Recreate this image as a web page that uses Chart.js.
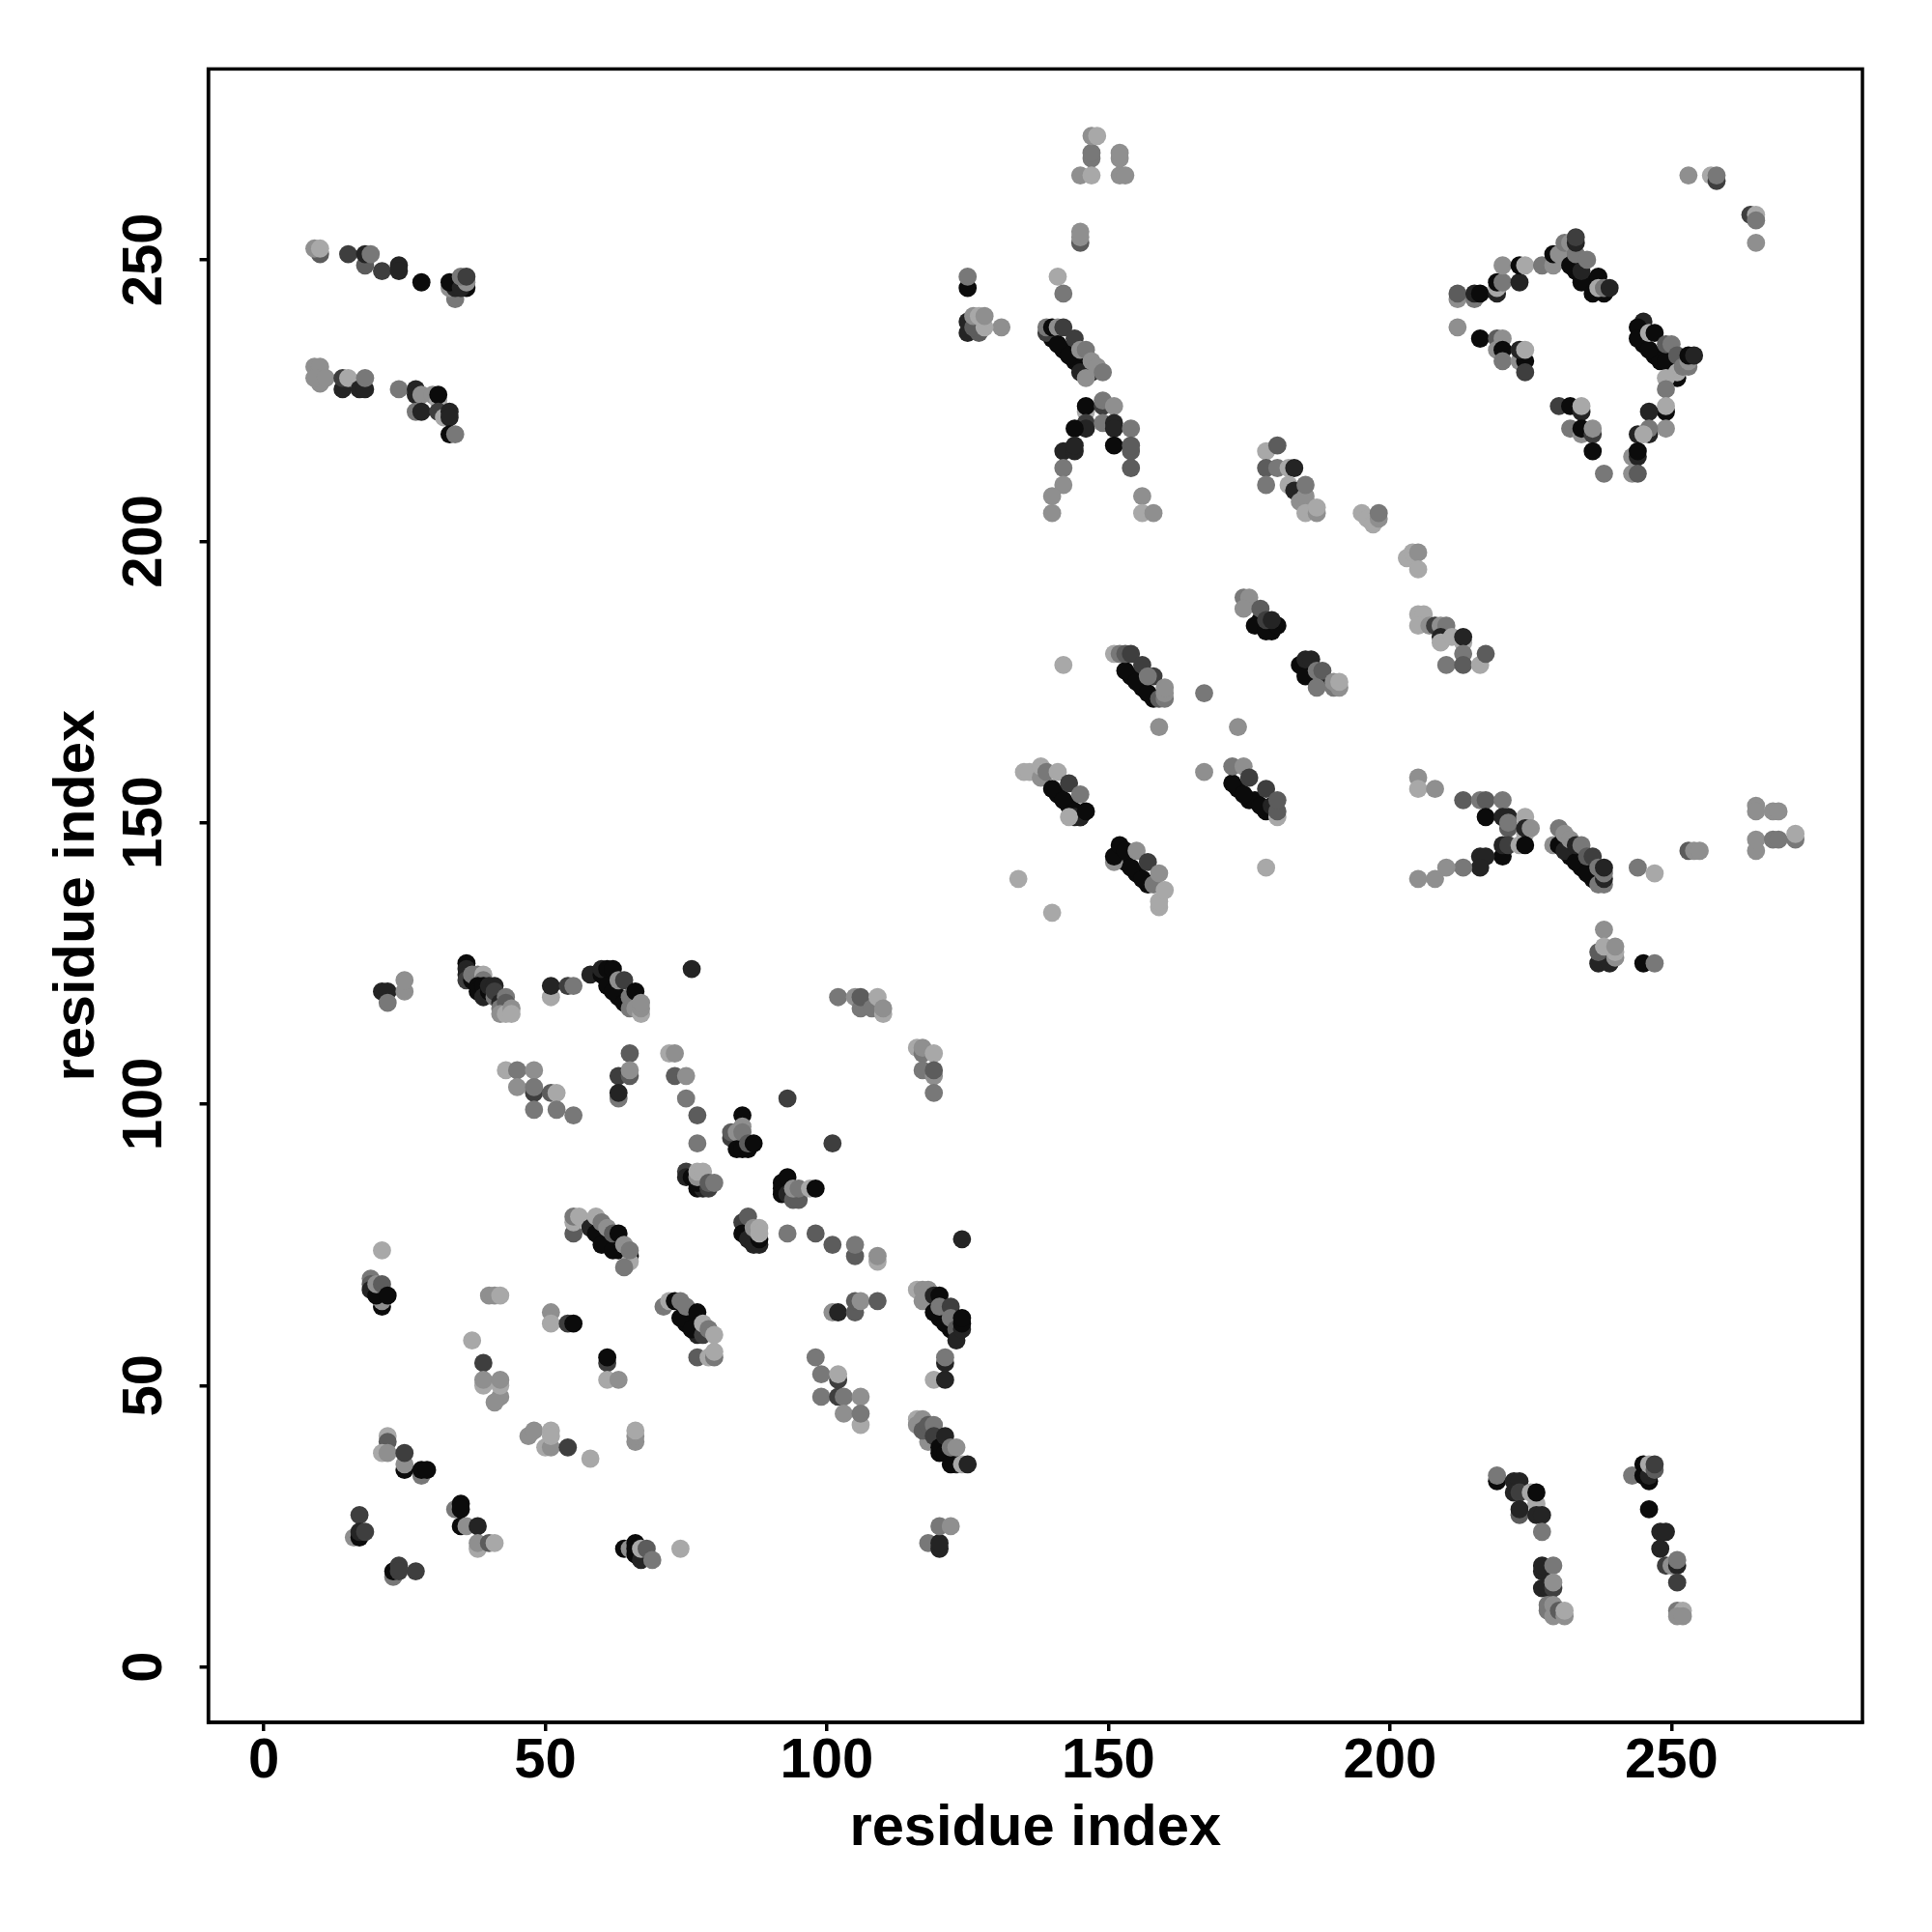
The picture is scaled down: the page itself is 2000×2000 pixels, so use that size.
<!DOCTYPE html>
<html>
<head>
<meta charset="utf-8">
<style>
body { margin: 0; background: #fff; }
</style>
<script src="https://cdn.jsdelivr.net/npm/chart.js@4"></script>
</head>
<body>
<canvas id="canvas" width="2000" height="2000"></canvas>
<script>
// contacts, one row per cluster, drawn in this order so overlaps stay the same
var residueX = [
    141,143,145,173,175,176,178,154,156,158,
    140,142,144,146,232,234,236,61,63,245,
    247,248,250,231,233,235,120,122,119,120,
    123,75,77,177,179,186,187,153,155,157,
    10,9,10,15,18,18,19,21,24,24,28,
    34,33,34,33,36,35,36,35,36,
    9,10,10,9,11,14,14,15,17,18,18,
    24,27,27,28,30,31,31,27,28,31,32,33,33,33,34,
    21,21,21,19,19,19,20,20,21,22,
    22,22,21,22,25,25,25,28,28,29,
    17,16,17,17,18,
    23,23,24,24,27,
    34,35,35,35,36,38,38,38,40,41,
    37,39,39,39,42,41,42,42,
    47,48,50,51,51,51,54,58,
    66,66,66,
    64,65,66,66,66,67,67,68,69,74,
    61,61,61,63,
    51,51,54,55,
    40,41,42,
    21,22,22,25,25,
    36,36,36,36,37,37,38,39,39,38,38,39,39,40,40,41,41,41,42,42,43,43,42,43,44,44,
    51,51,54,55,
    58,60,60,61,62,61,63,62,63,64,64,65,65,66,66,67,67,67,
    76,
    43,45,48,45,48,48,51,52,48,52,55,
    65,63,65,65,63,63,
    72,73,73,75,75,77,77,
    75,75,76,77,78,77,78,79,77,77,78,79,80,
    85,85,83,83,84,85,84,85,86,86,87,
    93,101,
    92,92,92,93,93,94,95,94,95,97,98,
    85,85,86,87,88,88,86,87,88,88,
    93,98,101,105,105,109,109,124,
    55,55,55,56,58,59,59,60,60,61,62,62,63,65,65,64,64,65,
    71,72,73,74,74,75,76,77,78,78,79,80,
    77,79,80,80,
    101,102,105,105,106,109,
    98,99,102,102,99,102,103,106,103,106,106,
    116,117,118,117,119,119,120,121,120,122,122,123,123,124,124,124,
    119,121,121,121,
    102,105,106,106,108,109,110,110,
    116,117,117,119,117,119,119,119,
    116,117,116,118,117,118,119,119,120,121,121,122,122,123,124,125,
    118,120,120,120,122,
    147,147,147,148,145,147,152,152,152,153,
    145,145,145,141,142,131,
    125,125,125,125,127,126,126,127,128,128,
    139,139,140,141,142,141,144,143,145,147,146,145,146,147,148,149,
    146,146,149,149,151,146,146,144,149,151,151,154,
    151,154,154,142,144,144,154,142,142,140,140,156,156,158,
    178,180,178,180,182,183,178,182,183,185,184,185,185,185,187,187,
    195,196,197,198,198,203,204,205,205,
    205,206,205,207,208,209,210,209,209,211,213,213,213,210,213,216,217,
    142,
    153,155,157,151,152,153,154,156,158,157,159,160,160,160,
    167,159,173,167,
    174,175,174,176,178,180,177,178,179,
    184,185,185,186,187,188,187,190,190,191,191,
    135,136,138,138,139,141,140,142,144,144,145,143,143,145,146,
    172,174,177,172,174,175,178,179,180,180,180,
    178,
    151,151,152,153,154,156,155,157,158,159,159,159,160,
    134,140,
    205,205,208,213,216,217,220,
    217,220,221,221,221,224,224,224,225,
    220,220,221,223,224,216,217,216,213,210,205,208,
    229,230,231,233,235,237,238,238,230,231,232,233,234,235,236,237,238,238,
    238,237,239,237,238,240,240,240,245,247,
    244,247,253,254,255,
    265,265,268,269,265,265,268,269,272,272,
    253,257,258,258,264,265,265,265,
    212,212,215,215,216,219,219,219,220,223,220,223,224,227,229,
    229,230,232,234,236,238,237,231,232,233,233,233,234,235,237,238,239,
    212,216,219,220,219,220,220,223,224,223,224,224,
    230,232,234,234,232,234,234,236,236,236,238,
    245,244,244,246,246,247,249,249,250,251,251,251,252,253,253,253,254,
    249,249,249,249,246,249,246,246,244,245,243,244,244,243,244,
    219,219,222,223,222,223,225,226,226,223,223,226,227,227,
    227,227,229,227,228,229,229,228,228,229,229,230,231,231,
    243,245,245,246,246,246,247,247,246,248,249,248,249,250,251,251,251,251,252,251,252
];
var residueY = [
    155,153,151,156,154,154,152,176,174,172,
    236,234,232,230,144,142,140,76,74,235,
    233,232,230,250,248,246,62,60,40,38,
    36,61,59,186,184,177,175,143,141,139,
    251,252,252,251,249,251,251,248,249,248,246,
    243,245,245,246,245,245,246,247,247,
    231,231,228,229,229,227,229,229,227,227,229,
    227,227,226,226,226,225,226,223,223,223,222,223,222,219,219,
    74,64,65,69,68,67,66,68,68,66,
    41,40,38,38,35,36,38,34,35,35,
    27,23,23,24,24,
    16,17,18,17,17,
    28,29,28,25,25,25,21,22,22,22,
    58,54,50,51,48,47,50,51,
    41,42,39,39,42,41,39,37,
    40,41,42,
    21,21,22,21,20,19,21,21,19,21,
    54,55,51,51,
    63,61,61,61,
    66,66,66,
    120,120,118,120,122,
    125,124,123,122,122,123,123,123,122,121,120,121,119,120,121,119,121,120,118,117,119,118,116,116,117,116,
    119,121,121,121,
    123,123,124,124,124,121,119,120,122,122,118,117,119,120,117,116,117,118,
    124,
    106,106,106,103,102,103,102,102,99,99,98,
    109,105,105,106,101,102,
    109,109,105,105,101,98,93,
    88,87,87,85,85,86,86,85,87,88,88,86,86,
    98,96,94,95,95,95,92,92,92,93,93,
    101,93,
    86,85,84,87,84,83,83,85,85,85,85,
    79,77,76,75,75,76,80,78,78,77,
    77,77,75,73,75,72,73,76,
    77,79,80,80,78,77,80,75,79,78,74,77,77,73,72,71,75,74,
    64,65,65,62,65,64,60,63,59,61,60,59,
    55,55,55,56,
    63,63,63,65,65,65,
    55,52,51,52,48,48,48,48,45,43,45,
    67,67,67,65,63,66,66,61,64,64,62,60,58,60,61,62,
    51,51,54,55,
    119,119,117,119,117,119,116,117,
    110,109,110,109,106,105,106,102,
    44,44,43,40,42,43,43,41,39,38,41,36,39,39,36,36,
    22,21,22,25,25,
    268,269,272,272,265,265,268,269,265,265,
    253,254,255,247,244,238,
    245,247,237,239,237,238,240,240,238,240,
    237,238,238,238,238,235,236,233,230,230,229,234,234,232,231,230,
    223,224,224,225,224,221,220,220,221,221,220,220,
    217,216,217,216,216,217,213,213,210,208,205,208,205,205,
    216,217,213,213,213,213,210,210,209,207,207,208,210,205,205,206,
    205,204,203,204,205,197,198,198,195,
    187,187,185,185,185,185,185,183,182,183,182,183,180,178,178,178,180,
    178,
    177,175,173,180,180,180,180,178,176,176,172,172,173,174,
    173,167,167,159,
    190,190,188,185,184,185,188,186,186,
    178,176,179,179,177,177,174,174,175,174,175,
    159,159,158,160,159,159,156,154,152,151,151,151,157,155,152,
    157,155,153,160,160,158,156,153,151,152,154,
    142,
    143,144,146,145,142,140,145,143,139,141,135,136,138,
    140,134,
    158,156,156,154,154,154,154,
    151,151,151,149,150,151,148,149,149,
    144,146,146,146,146,144,144,142,142,142,140,140,
    146,146,145,143,141,139,139,140,149,148,147,146,146,144,144,142,141,142,
    131,125,125,127,128,126,127,128,125,125,
    142,141,145,145,145,
    153,152,152,152,145,147,147,147,147,148,
    265,265,264,265,258,258,257,253,
    243,244,243,244,244,244,245,246,246,246,249,249,249,249,249,
    251,251,249,246,244,244,247,253,253,251,253,254,248,250,245,245,245,
    238,236,236,236,234,234,232,232,232,234,234,230,
    224,224,223,224,220,219,220,219,220,216,212,
    239,238,236,234,237,237,232,235,235,229,230,233,231,231,232,233,233,
    229,227,223,224,223,220,219,220,219,219,215,215,216,212,212,
    33,34,33,33,31,31,31,29,31,27,28,27,27,24,
    17,18,18,14,14,14,15,10,11,11,9,10,9,10,
    34,36,34,33,34,36,35,36,28,24,24,21,18,18,18,19,15,10,10,9,9
];
// index into grayLevels for each contact, same rows as above
var shadeIndex = [
    0,0,0,0,0,0,0,0,0,0,
    0,0,0,0,0,0,0,0,0,0,
    0,0,0,0,0,0,0,0,0,0,
    1,0,1,0,0,0,1,0,0,0,
    3,5,6,2,3,1,4,2,1,1,0,
    4,5,1,0,0,1,5,4,2,
    5,5,5,5,5,1,2,6,1,1,4,
    4,1,1,5,5,6,0,4,1,2,6,1,1,0,4,
    6,0,5,4,3,1,0,5,3,0,
    6,3,6,5,0,5,2,4,0,0,
    2,5,0,1,2,
    4,0,2,2,2,
    4,0,0,0,5,1,6,5,3,6,
    6,2,6,5,5,5,6,5,
    5,5,6,5,6,6,2,6,
    5,5,6,
    0,5,0,0,0,1,6,3,4,6,
    2,0,6,5,
    5,6,2,0,
    5,5,6,
    1,1,4,5,5,
    0,1,1,2,0,4,4,6,4,0,0,0,1,0,1,4,1,2,1,4,4,3,5,6,5,6,
    6,1,2,4,
    1,0,1,0,0,0,0,0,5,2,0,4,4,0,5,6,5,5,
    1,
    6,4,5,5,2,4,3,6,4,4,4,
    3,2,3,5,4,1,
    6,5,3,5,4,3,4,
    2,1,0,0,1,0,0,2,5,6,6,3,4,
    0,5,2,3,5,4,0,0,0,3,0,
    2,2,
    0,0,0,0,1,3,3,5,4,6,0,
    2,0,1,1,1,0,3,5,6,6,
    4,3,3,3,4,6,5,1,
    3,6,4,6,1,0,6,0,4,5,0,3,0,0,6,4,5,4,
    4,6,0,0,4,4,0,0,2,6,4,6,
    3,6,4,6,
    5,1,3,3,5,3,
    4,4,2,6,4,2,4,5,5,6,4,
    6,5,5,5,0,1,0,0,4,2,4,3,1,1,0,0,
    6,1,1,4,
    4,5,4,3,4,6,6,5,
    6,4,5,6,4,5,3,4,
    6,5,5,5,3,3,4,2,0,0,1,0,4,5,6,1,
    4,1,1,4,5,
    4,4,5,6,5,6,5,5,5,5,
    3,5,5,6,4,5,
    0,4,1,1,3,3,5,6,6,5,
    2,4,0,5,2,0,2,0,1,1,5,5,4,5,5,4,
    6,0,2,4,5,2,1,0,4,1,1,4,
    0,3,3,1,1,1,3,4,5,5,5,5,6,5,
    6,3,3,4,6,1,4,6,1,3,5,5,4,6,5,6,
    6,6,6,5,4,6,6,5,6,
    6,6,6,5,2,5,4,1,6,6,6,1,4,4,3,6,3,
    6,
    0,0,0,6,4,3,2,2,2,4,3,4,5,5,
    4,5,5,5,
    4,5,5,0,0,0,3,2,1,
    0,0,1,1,4,3,4,4,5,5,6,
    6,6,5,6,4,6,0,0,0,1,1,6,2,4,0,
    0,0,0,4,5,2,2,1,6,3,3,
    6,
    5,0,0,0,0,0,5,2,4,5,6,6,6,
    6,6,
    5,6,5,3,4,3,4,
    0,1,1,3,4,6,6,1,5,
    0,1,2,6,0,1,1,1,4,5,5,5,
    5,0,1,0,0,4,4,1,4,5,5,1,4,3,2,4,4,1,
    5,1,1,3,6,5,6,5,0,4,
    4,6,3,5,5,
    5,5,5,5,5,5,4,4,4,6,
    5,6,2,4,2,6,4,5,
    5,3,4,1,0,1,6,0,4,1,5,0,6,4,5,
    0,5,0,0,0,0,0,4,5,4,1,2,1,4,6,4,1,
    5,0,3,5,5,0,4,5,0,1,6,2,
    2,0,1,6,4,5,0,2,5,0,4,
    1,0,0,0,6,0,0,3,4,0,6,3,4,4,5,0,1,
    6,4,0,6,1,5,1,4,1,6,5,1,0,5,3,
    0,4,1,1,1,2,6,6,0,3,1,1,1,4,
    1,1,4,1,1,2,5,4,4,5,5,3,5,6,
    4,0,0,0,1,6,3,2,0,1,1,1,2,5,1,4,2,4,6,5,5
];
var grayLevels = ["#0b0b0b","#242424","#3e3e3e","#5c5c5c","#787878","#8f8f8f","#a8a8a8"];
var tickValues = [0,50,100,150,200,250];
var axisTitle = "residue index";

var points = [];
var pointColors = [];
for (var i = 0; i < residueX.length; i++) {
    points.push({x: residueX[i], y: residueY[i]});
    pointColors.push(grayLevels[shadeIndex[i]]);
}

var tickFont = {family: "'Liberation Sans'", size: 58, weight: "bold"};
var titleFont = {family: "'Liberation Sans'", size: 59.7, weight: "bold"};

function setTicks(scale) {
    scale.ticks = tickValues.map(function(v) { return {value: v}; });
}

// R style closed box round the plot
var plotBox = {
    id: "plotBox",
    afterDraw: function(chart) {
        var a = chart.chartArea, ctx = chart.ctx;
        ctx.save();
        ctx.strokeStyle = "#000";
        ctx.lineWidth = 3.5;
        ctx.strokeRect(a.left, a.top, a.right - a.left, a.bottom - a.top);
        ctx.restore();
    }
};

new Chart(document.getElementById("canvas").getContext("2d"), {
    type: "scatter",
    data: {
        datasets: [{
            data: points,
            pointBackgroundColor: pointColors,
            pointBorderWidth: 0,
            pointRadius: 9.4
        }]
    },
    options: {
        responsive: false,
        animation: false,
        devicePixelRatio: 1,
        layout: {padding: {top: 71.4, right: 72}},
        plugins: {legend: {display: false}, tooltip: {enabled: false}},
        scales: {
            x: {
                min: -9.85,
                max: 283.9,
                afterBuildTicks: setTicks,
                afterFit: function(scale) { scale.height = 217; },
                border: {color: "#000", width: 3.5},
                grid: {drawOnChartArea: false, color: "#000", lineWidth: 3.5, tickLength: 9},
                ticks: {color: "#000", font: tickFont, padding: -3, maxRotation: 0},
                title: {display: true, text: axisTitle, color: "#000", font: titleFont, padding: {top: 0, bottom: 71}}
            },
            y: {
                min: -9.85,
                max: 283.9,
                afterBuildTicks: setTicks,
                afterFit: function(scale) { scale.width = 215.6; },
                border: {color: "#000", width: 3.5},
                grid: {drawOnChartArea: false, color: "#000", lineWidth: 3.5, tickLength: 9},
                ticks: {color: "#000", font: tickFont, padding: 7, minRotation: 90, maxRotation: 90, crossAlign: "center"},
                title: {display: true, text: axisTitle, color: "#000", font: titleFont, padding: {top: 45, bottom: 0}}
            }
        }
    },
    plugins: [plotBox]
});
</script>
</body>
</html>
